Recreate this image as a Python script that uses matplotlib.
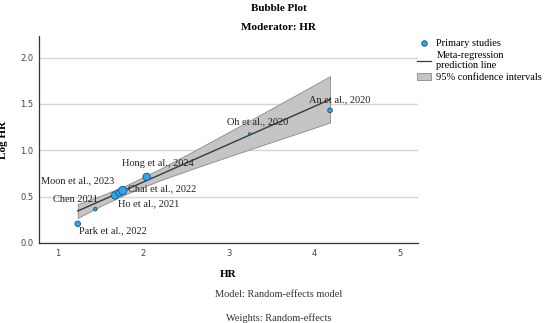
import numpy as np
import matplotlib
matplotlib.use("Agg")
import matplotlib.pyplot as plt
from matplotlib.lines import Line2D
from matplotlib.patches import Patch

# Data
studies = ["Park et al., 2022", "Chen 2021", "Ho et al., 2021", "Moon et al., 2023",
           "Chai et al., 2022", "Hong et al., 2024", "Oh et al., 2020", "An et al., 2020"]
hr = [1.234, 1.44, 1.67, 1.72, 1.76, 2.04, 3.245, 4.185]
log_hr = [0.207, 0.365, 0.513, 0.542, 0.565, 0.713, 1.177, 1.431]
weights = [10, 4, 18, 16, 23, 18, 2, 7]

# label anchor (left edge, vertical centre) for each study
label_x = [1.249, 0.949, 1.709, 0.805, 1.826, 1.749, 2.977, 3.94]
label_y = [0.133, 0.471, 0.428, 0.669, 0.583, 0.860, 1.305, 1.545]

# meta-regression line and 95% CI band
line_x = [1.234, 4.185]
line_y = [0.345, 1.548]
ci_x = [1.234, 1.5, 1.8, 2.2, 2.6, 3.0, 3.4, 3.8, 4.185]
ci_lo = [0.27, 0.397, 0.528, 0.677, 0.807, 0.933, 1.057, 1.18, 1.30]
ci_hi = [0.42, 0.509, 0.622, 0.801, 0.997, 1.197, 1.399, 1.602, 1.80]

serif = "Liberation Serif"

fig = plt.figure(figsize=(5.5, 3.23), dpi=100)
ax = fig.add_axes([0.0709, 0.2477, 0.6891, 0.6408])

ax.fill_between(ci_x, ci_lo, ci_hi, facecolor="#c4c4c4", edgecolor="#8a8a8a",
                linewidth=0.6, zorder=2)
ax.plot(line_x, line_y, color="#3a3a3a", linewidth=1.0, zorder=3)
ax.scatter(hr, log_hr, s=np.array(weights) * 1.6, color="#2aa7f0",
           edgecolor="#1f4f7a", linewidth=0.6, zorder=4)

for name, tx, ty in zip(studies, label_x, label_y):
    ax.text(tx, ty, name, fontsize=7.5, family=serif, color="#222222",
            ha="left", va="center", zorder=5)

ax.set_xlim(0.781, 5.214)
ax.set_ylim(0, 2.233)
ax.set_xticks([1, 2, 3, 4, 5])
ax.set_yticks([0.0, 0.5, 1.0, 1.5, 2.0])
ax.set_yticklabels(["0.0", "0.5", "1.0", "1.5", "2.0"])
ax.tick_params(length=0, labelsize=6, labelcolor="#444444", pad=4)
ax.grid(axis="y", color="#d6d6d6", linewidth=1.0, zorder=0)
ax.set_axisbelow(True)
for side in ["top", "right"]:
    ax.spines[side].set_visible(False)
for side in ["left", "bottom"]:
    ax.spines[side].set_color("#333333")
    ax.spines[side].set_linewidth(0.9)

ax.set_xlabel("HR", fontsize=8, family=serif, fontweight="bold")
ax.set_ylabel("Log HR", fontsize=8, family=serif, fontweight="bold")
ax.xaxis.set_label_coords(0.5, -0.13)
ax.yaxis.set_label_coords(-0.083, 0.5)

fig.text(0.507, 0.975, "Bubble Plot", ha="center", va="center", fontsize=8,
         family=serif, fontweight="bold")
fig.text(0.507, 0.916, "Moderator: HR", ha="center", va="center", fontsize=8,
         family=serif, fontweight="bold")
fig.text(0.507, 0.087, "Model: Random-effects model", ha="center", va="center",
         fontsize=7.5, family=serif, color="#333333")
fig.text(0.507, 0.016, "Weights: Random-effects", ha="center", va="center",
         fontsize=7.5, family=serif, color="#333333")

handles = [
    Line2D([], [], marker="o", linestyle="none", markersize=4,
           markerfacecolor="#2aa7f0", markeredgecolor="#1f4f7a", markeredgewidth=0.6),
    Line2D([], [], color="#3a3a3a", linewidth=0.9),
    Patch(facecolor="#c4c4c4", edgecolor="#8a8a8a", linewidth=0.6),
]
labels = ["Primary studies", "Meta-regression\nprediction line", "95% confidence intervals"]
fig.legend(handles, labels, loc="upper left", bbox_to_anchor=(0.748, 0.895),
           frameon=False, prop={"family": serif, "size": 7.5},
           handlelength=1.4, handletextpad=0.5, labelspacing=0.25, borderpad=0)

fig.savefig("out.png", dpi=100)
